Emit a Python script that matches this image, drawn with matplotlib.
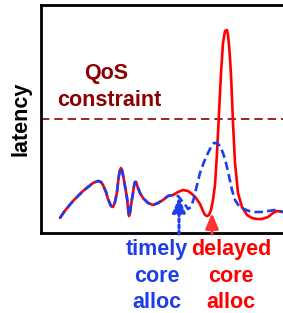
import matplotlib.pyplot as plt

# picture coords: t = time (px from left spine), lat = latency (px above x axis)
# part both runs share
shared_t = [19, 23, 27, 32, 37, 42, 47, 52, 57, 60, 62, 65, 67, 70, 72, 74, 76, 77, 78,
            79, 80, 81, 82, 84, 86, 87, 88, 89, 90, 92, 93, 94, 95, 96, 97, 99, 102,
            107, 112, 117, 122, 127, 132]
shared_lat = [15, 21, 26, 32, 37, 42, 46, 50, 52, 51, 48, 41, 34, 27, 26, 31, 41, 50, 58,
              63, 65, 63, 58, 47, 35, 25, 17, 20, 28, 40, 47, 51, 51, 48, 45, 40, 35,
              30, 28, 30, 33, 37, 38]

# delayed core allocation (red)
red_t = [137, 142, 147, 151, 155, 159, 162, 164, 166, 168, 170, 172, 174, 176, 178,
         180, 182, 184, 186, 187, 188, 189, 190, 191, 192, 194, 197, 201, 206, 211,
         216, 221, 227, 232, 236, 242]
red_lat = [41, 43, 42, 39, 35, 29, 22, 18, 17, 18, 23, 33, 48, 80, 120, 160, 190,
           202, 203, 198, 188, 175, 158, 135, 110, 70, 40, 26, 18, 15, 14, 14, 16,
           20, 22, 21]

# timely core allocation (blue)
blue_t = [137, 141, 145, 147, 150, 153, 156, 159, 163, 167, 170, 173, 176, 179, 182,
          185, 188, 191, 194, 198, 203, 208, 214, 220, 227, 234, 242]
blue_lat = [37, 32, 27, 24, 26, 35, 48, 60, 71, 80, 86, 90, 90, 87, 80, 70, 57, 43,
            33, 27, 24, 22, 21, 21, 22, 23, 21]

qos_level = 114
timely_t, timely_tip = 138, 36
delayed_t, delayed_tip = 171, 20

red = "#ff0000"
blue = "#1f3de8"
dark_red = "#8b0000"

plt.rcParams["font.family"] = ["Liberation Sans", "DejaVu Sans"]
plt.rcParams["font.weight"] = "bold"

fig = plt.figure(figsize=(2.83, 3.13), dpi=100)
ax = fig.add_axes([41 / 283, 80 / 313, 1 - 41 / 283, 228 / 313])

ax.plot(shared_t + red_t, shared_lat + red_lat, color=red, lw=1.9,
        solid_capstyle="round", solid_joinstyle="round", zorder=3)
ax.plot(shared_t + blue_t, shared_lat + blue_lat, color=blue, lw=1.9,
        dashes=(3.2, 1.6), zorder=4)

ax.axhline(qos_level, color=dark_red, lw=1.2, dashes=(5, 3), zorder=2)
ax.text(65, 160, "QoS", color=dark_red, fontsize=15.5, fontweight="bold",
        ha="center", va="center")
ax.text(68, 133, "constraint", color=dark_red, fontsize=15.5, fontweight="bold",
        ha="center", va="center")

ax.annotate("", xy=(timely_t, timely_tip), xytext=(timely_t, -1),
            arrowprops=dict(arrowstyle="-|>,head_length=0.9,head_width=0.38",
                            color=blue, lw=2.2, linestyle=(0, (1, 1)),
                            mutation_scale=10, shrinkA=0, shrinkB=0),
            annotation_clip=False, zorder=5)
ax.annotate("", xy=(delayed_t, delayed_tip), xytext=(delayed_t, -1),
            arrowprops=dict(arrowstyle="-|>,head_length=0.9,head_width=0.38",
                            color="#ff3333", lw=2.2, mutation_scale=10,
                            shrinkA=0, shrinkB=0),
            annotation_clip=False, zorder=5)

# three lines each, kept separate so the block stays inside the figure
label_rows = [-17, -44, -69]
timely_lines = ["timely", "core", "alloc"]
delayed_lines = ["delayed", "core", "alloc"]
for row, tl, dl in zip(label_rows, timely_lines, delayed_lines):
    ax.text(116, row, tl, color=blue, fontsize=15.5, fontweight="bold",
            ha="center", va="center", clip_on=False)
    ax.text(190, row, dl, color=red, fontsize=15.5, fontweight="bold",
            ha="center", va="center", clip_on=False)

ax.set_xlim(0, 242)
ax.set_ylim(0, 228)
ax.set_xticks([])
ax.set_yticks([])
ax.spines["right"].set_visible(False)
for side in ["left", "top", "bottom"]:
    ax.spines[side].set_linewidth(2.0)
ax.set_ylabel("latency", fontsize=15.5, fontweight="bold", labelpad=7)

fig.savefig("out.png", dpi=100)
